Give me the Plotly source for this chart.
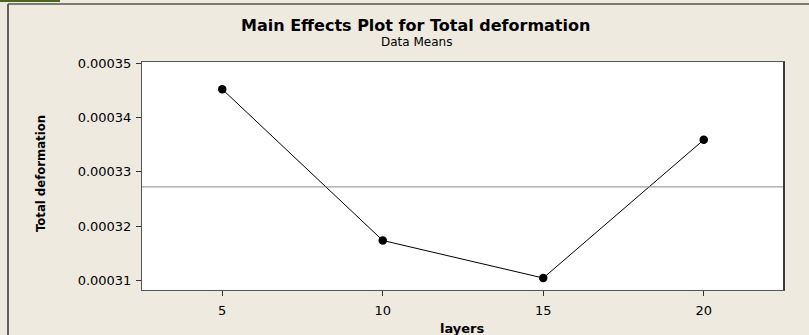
import numpy as np
import plotly.graph_objects as go

# Main effects of the number of layers on total deformation (data means)
layers = [5, 10, 15, 20]
mean_deformation = [0.0003452, 0.0003174, 0.0003105, 0.0003359]
y_ticks = [0.00031, 0.00032, 0.00033, 0.00034, 0.00035]
x_ticks = [5, 10, 15, 20]

W, H = 809, 335
L, R, T, B = 142, 25, 62, 45
pw, ph = W - L - R, H - T - B


def px(xp):
    return (xp - L) / pw


def py(yp):
    return (H - B - yp) / ph


grand_mean = float(np.mean(mean_deformation))

fig = go.Figure()
fig.add_trace(go.Scatter(
    x=layers, y=mean_deformation, mode="lines+markers",
    line=dict(color="black", width=1),
    marker=dict(color="black", size=8.5, symbol="circle"),
    showlegend=False, hoverinfo="x+y",
))

shapes = [
    # grand mean reference line
    dict(type="line", xref="paper", yref="y", x0=0, x1=1,
         y0=grand_mean, y1=grand_mean, line=dict(color="#8a8a8a", width=1)),
    # outer panel frame (left and top edges)
    dict(type="line", xref="paper", yref="paper", x0=px(8), x1=px(8),
         y0=py(4), y1=py(340), line=dict(color="#333333", width=1.5)),
    dict(type="line", xref="paper", yref="paper", x0=px(8), x1=px(815),
         y0=py(4), y1=py(4), line=dict(color="#555555", width=1.5)),
    # green strip at the top-left edge
    dict(type="rect", xref="paper", yref="paper", x0=px(0), x1=px(60),
         y0=py(0), y1=py(2), fillcolor="#4f6228", line=dict(width=0)),
    # darker right edge of the plot box
    dict(type="line", xref="paper", yref="paper", x0=1, x1=1,
         y0=0, y1=1, line=dict(color="#3a3a3a", width=2)),
]

annotations = [
    dict(text="<b>Main Effects Plot for Total deformation</b>",
         xref="paper", yref="paper", x=px(415), y=py(26),
         showarrow=False, xanchor="center", yanchor="middle",
         font=dict(family="DejaVu Sans", size=16, color="black")),
    dict(text="Data Means",
         xref="paper", yref="paper", x=px(416), y=py(42),
         showarrow=False, xanchor="center", yanchor="middle",
         font=dict(family="DejaVu Sans", size=12, color="black")),
    dict(text="<b>Total deformation</b>",
         xref="paper", yref="paper", x=px(40), y=py(174), textangle=-90,
         showarrow=False, xanchor="center", yanchor="middle",
         font=dict(family="DejaVu Sans Condensed", size=13, color="black")),
    dict(text="<b>layers</b>",
         xref="paper", yref="paper", x=px(462), y=py(328),
         showarrow=False, xanchor="center", yanchor="middle",
         font=dict(family="DejaVu Sans", size=13, color="black")),
]

fig.update_layout(
    width=W, height=H,
    margin=dict(l=L, r=R, t=T, b=B, pad=0),
    paper_bgcolor="#eeeae0",
    plot_bgcolor="white",
    shapes=shapes,
    annotations=annotations,
    font=dict(family="DejaVu Sans", size=13, color="black"),
)
fig.update_xaxes(
    range=[2.5, 22.5], tickvals=x_ticks, ticktext=[str(v) for v in x_ticks],
    ticks="outside", ticklen=5, tickcolor="#333333",
    showline=True, linecolor="#555555", linewidth=1, mirror=True,
    showgrid=False, zeroline=False, ticklabelstandoff=3,
    tickfont=dict(family="DejaVu Sans", size=13),
)
fig.update_yaxes(
    range=[0.0003083, 0.0003502], tickvals=y_ticks,
    ticktext=[f"{v:.5f}" for v in y_ticks],
    ticks="outside", ticklen=5, tickcolor="#333333",
    showline=True, linecolor="#555555", linewidth=1, mirror=True,
    showgrid=False, zeroline=False, ticklabelstandoff=2,
    tickfont=dict(family="DejaVu Sans", size=13),
)

fig.write_html("out.html")
